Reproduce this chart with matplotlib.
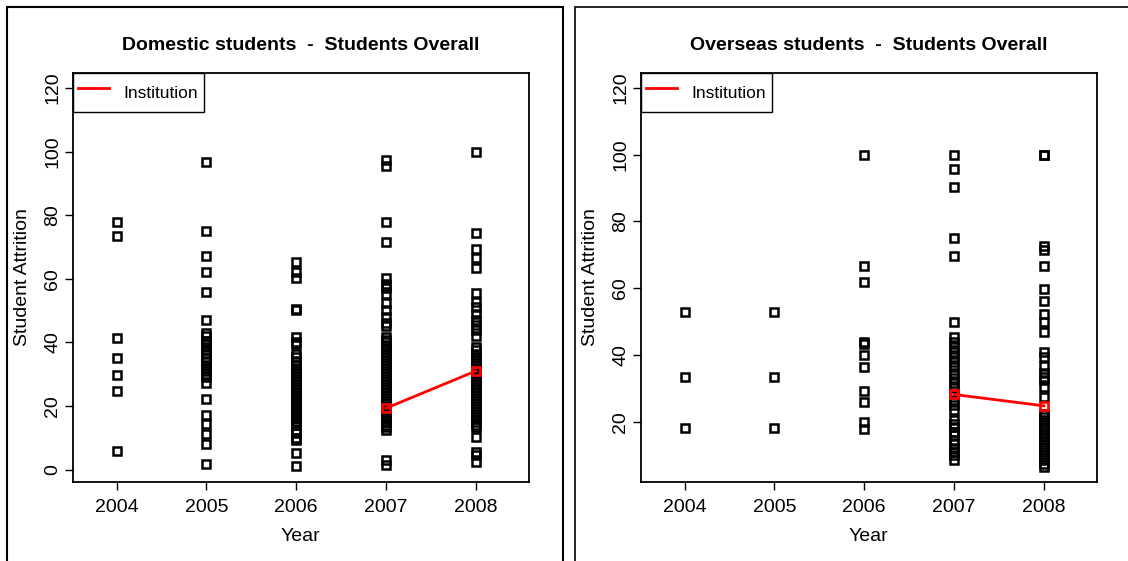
import numpy as np
import matplotlib
matplotlib.use('Agg')
import matplotlib.pyplot as plt
from matplotlib.patches import Rectangle

plt.rcParams['font.family'] = ['Liberation Sans', 'DejaVu Sans']

years = [2004, 2005, 2006, 2007, 2008]

# attrition per course, domestic students
dom = {
    2004: [77.7, 73.5, 41.4, 35.2, 29.6, 24.8, 5.7],
    2005: [96.8, 75.1, 67.2, 62.0, 55.7, 46.9, 42.8, 42.0, 40.5, 39.5, 38.6,
           37.5, 36.3, 35.2, 34.0, 33.0, 32.0, 31.0, 30.0, 29.0, 27.1, 22.3,
           17.1, 14.2, 11.1, 8.1, 1.7],
    2006: [65.2, 62.2, 60.1, 50.6, 50.1, 41.6, 40.1, 39.5, 36.5, 35.5, 34.0,
           33.0, 32.0, 31.0, 30.0, 29.0, 28.0, 27.0, 26.0, 25.0, 24.0, 23.0,
           22.0, 21.0, 20.0, 19.0, 18.0, 17.0, 16.0, 15.0, 14.0, 12.4, 11.5,
           10.0, 9.2, 5.1, 1.1],
    2007: [97.5, 95.4, 77.9, 71.5, 60.1, 58.5, 57.0, 55.1, 52.3, 50.2, 48.1,
           46.0, 45.2, 41.8, 40.8, 40.0, 39.0, 38.0, 37.0, 36.0, 35.0, 34.0,
           33.0, 32.0, 31.0, 30.0, 29.0, 28.0, 27.0, 26.0, 25.0, 24.0, 23.0,
           22.0, 21.0, 20.0, 19.0, 18.0, 17.0, 16.0, 15.0, 14.0, 13.5, 12.4,
           3.0, 1.4],
    2008: [100.0, 74.3, 69.3, 66.4, 63.3, 55.6, 52.8, 51.0, 49.0, 47.0, 45.5,
           44.0, 42.0, 38.6, 37.5, 36.5, 35.5, 34.5, 33.5, 32.5, 31.5, 30.0,
           29.0, 28.0, 27.0, 26.0, 25.0, 24.0, 23.0, 22.0, 21.0, 20.0, 19.0,
           18.0, 17.0, 16.0, 15.0, 14.0, 13.5, 10.3, 5.6, 4.6, 2.5],
}

# attrition per course, overseas students
ovs = {
    2004: [52.9, 33.3, 18.1],
    2005: [52.9, 33.3, 18.1],
    2006: [100.0, 66.6, 61.9, 43.8, 43.2, 40.0, 36.3, 29.1, 26.0, 20.0, 17.9],
    2007: [100.0, 95.6, 90.3, 75.0, 69.6, 50.0, 45.5, 44.0, 42.5, 41.0, 39.5,
           38.0, 36.5, 34.5, 33.0, 31.5, 30.0, 28.3, 26.5, 25.0, 23.5, 20.5,
           19.5, 18.5, 17.0, 16.0, 14.5, 13.5, 12.0, 11.0, 10.0, 8.6],
    2008: [100.0, 100.0, 72.5, 71.5, 66.7, 59.7, 56.3, 52.3, 50.0, 47.0, 41.0,
           39.3, 36.7, 34.5, 33.5, 32.5, 30.5, 27.3, 22.5, 21.5, 20.5, 19.5,
           18.5, 17.5, 16.5, 15.5, 14.5, 13.5, 12.5, 11.5, 10.5, 9.5, 8.5,
           7.5, 6.6],
}

# institution-wide attrition
inst_years = [2007, 2008]
inst_dom = [19.3, 31.0]
inst_ovs = [28.2, 24.8]

fig = plt.figure(figsize=(11.28, 5.61), dpi=100)

# panel frames
fig.add_artist(Rectangle((7/1128, -0.1), (562.5-7)/1128, 1.1-7/561,
                         transform=fig.transFigure, fill=False, ec='black', lw=1.5))
fig.add_artist(Rectangle((575/1128, -0.1), 0.6, 1.1-7/561,
                         transform=fig.transFigure, fill=False, ec='black', lw=1.2))

panels = [
    (0.0643, dom, inst_dom, 'Domestic students  -  Students Overall', (-3.9, 124.8)),
    (0.5679, ovs, inst_ovs, 'Overseas students  -  Students Overall', (2.0, 124.5)),
]

for left, data, inst, title, ylim in panels:
    ax = fig.add_axes([left, 0.1408, 0.4045, 0.7296])
    for yr in years:
        ax.plot([yr]*len(data[yr]), data[yr], 's', color='black', mfc='none',
                ms=5.2, mew=1.8)
    ax.plot(inst_years, inst, 's-', color='red', mfc='none', ms=5.2, mew=1.9,
            lw=2, label='Institution')
    ax.set_xlim(2003.51, 2008.59)
    ax.set_ylim(*ylim)
    ax.set_xticks(years)
    ax.set_yticks([t for t in range(0, 121, 20) if t >= ylim[0]])
    ax.set_title(title, fontsize=14, fontweight='bold', pad=16)
    ax.set_xlabel('Year', fontsize=14, labelpad=9)
    ax.set_ylabel('Student Attrition', fontsize=14, labelpad=10)
    ax.tick_params(labelsize=14, length=6, width=1, direction='out', pad=6)
    ax.tick_params(axis='y', labelrotation=90, pad=2)
    for lbl in ax.get_yticklabels():
        lbl.set_va('center')
    for s in ax.spines.values():
        s.set_linewidth(1.3)
    leg = ax.legend(loc='upper left', bbox_to_anchor=(0, 1), borderaxespad=0,
                    fancybox=False, framealpha=1, edgecolor='black', fontsize=12.5,
                    handlelength=1.8, handleheight=2.2, handletextpad=0.85,
                    borderpad=0.3)
    leg.get_frame().set_linewidth(1.0)
    # only the line in the legend key
    for h in leg.legend_handles:
        h.set_marker('')

fig.savefig('out.png', dpi=100)
